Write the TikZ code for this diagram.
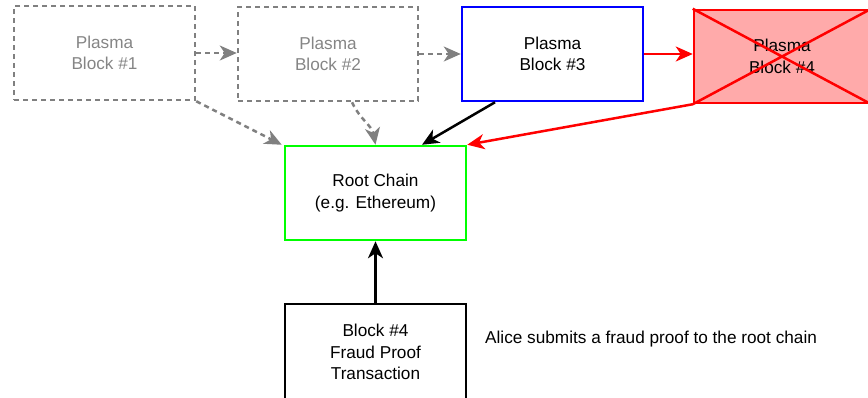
\documentclass[tikz,border=0pt]{standalone}
\usepackage{fontspec}
\setmainfont{Liberation Sans}
\usetikzlibrary{arrows.meta,calc}
\definecolor{dgray}{HTML}{808080}
\definecolor{tgray}{HTML}{858585}
\definecolor{pinkfill}{HTML}{FFAAAA}
\definecolor{mygreen}{HTML}{00FF00}
\tikzset{
  box/.style={draw, line width=2.5pt, minimum width=181pt, minimum height=94pt, align=center, inner sep=0pt, font=\fontsize{17.2}{21.5}\selectfont},
  ghost/.style={box, dgray, dash pattern=on 5pt off 4pt, text=tgray},
  arr/.style={line width=2.5pt, -{Stealth[length=17pt,width=15pt,inset=5pt]}},
  garr/.style={arr, dgray, dash pattern=on 5pt off 4pt},
}
\begin{document}
\begin{tikzpicture}[x=1pt,y=1pt]
\useasboundingbox (0,0) rectangle (868,-397);
\node[ghost] (b1) at (104.5,-53) {Plasma\\Block \#1};
\node[ghost, minimum width=180pt] (b2) at (328,-54) {Plasma\\Block \#2};
\node[box, blue] (b3) at (552.5,-54) {\textcolor{black}{Plasma}\\\textcolor{black}{Block \#3}};
\node[box, red, fill=pinkfill, minimum width=176pt, minimum height=93pt] (b4) at (782,-56.5) {\textcolor{black}{Plasma}\\\textcolor{black}{Block \#4}};
\draw[red, line width=2.5pt] (b4.north west) -- (b4.south east) (b4.south west) -- (b4.north east);
\node[box, mygreen] (rc) at (375.5,-193) {\textcolor{black}{Root Chain}\\\textcolor{black}{(e.g. Ethereum)}};
\node[box, minimum height=96pt] (fp) at (375.5,-352) {Block \#4\\Fraud Proof\\Transaction};
\node[anchor=west, inner sep=0pt, font=\fontsize{17.2}{21.5}\selectfont] (alice) at (485,-339) {Alice submits a fraud proof to the root chain};
\draw[garr] (b1.east) -- (b1.east -| b2.west);
\draw[garr] (b2.east) -- (b2.east -| b3.west);
\draw[arr, red] (b3.east) -- (b3.east -| b4.west);
\draw[garr] (b1.south east) -- ([xshift=-2pt]rc.north west);
\draw[garr] ([xshift=24pt]b2.south) to[out=-65,in=100] (rc.north);
\draw[arr] ([xshift=-57.5pt]b3.south) -- ([xshift=46.5pt]rc.north);
\draw[arr, red] (b4.south west) -- (rc.north east);
\draw[arr] (fp.north) -- (rc.south);
\end{tikzpicture}
\end{document}
